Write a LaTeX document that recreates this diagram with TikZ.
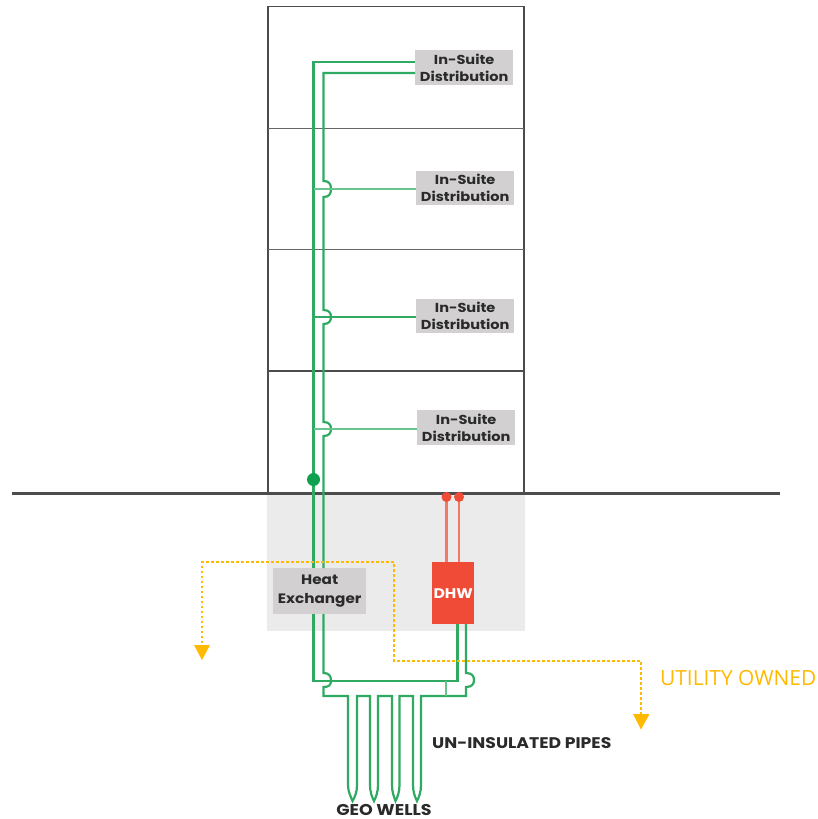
\documentclass[tikz,border=0pt]{standalone}
\usepackage{fontspec}
\setmainfont{Poppins}
\newfontfamily\labfont[FakeStretch=1.12]{Poppins}
\newfontfamily\utilfont{Open Sans}
\usetikzlibrary{arrows.meta}
\definecolor{pipegreen}{HTML}{2FAA62}
\definecolor{paleg}{HTML}{7FCF9F}
\definecolor{dotgreen}{HTML}{0FA150}
\definecolor{dhwred}{HTML}{F04B36}
\definecolor{palered}{HTML}{F0796A}
\definecolor{boxgray}{HTML}{D2D0D0}
\definecolor{basegray}{HTML}{EBEBEB}
\definecolor{orangeu}{HTML}{FFB900}
\definecolor{inkd}{HTML}{2A2A2A}
\tikzset{
 wall/.style={draw=black!70,line width=1.5pt},
 floorline/.style={draw=black!60,line width=1pt},
 pipe/.style={draw=pipegreen,line width=2.2pt},
 branch/.style={draw=paleg!70!pipegreen,line width=2.5pt},
 redpipe/.style={draw=palered,line width=2.2pt},
 label/.style={fill=boxgray,text=inkd,font=\labfont\bfseries\fontsize{13}{16.8}\selectfont,align=center,inner sep=0pt,minimum width=98pt,minimum height=34.5pt,anchor=north west},
 plainlabel/.style={text=inkd,inner sep=0pt},
 dotline/.style={draw=orangeu,line width=2.6pt,dash pattern=on 2.5pt off 2.5pt},
 headtip/.style={fill=orangeu,draw=none},
}
\begin{document}
\begin{tikzpicture}[x=1pt,y=-1pt]
\useasboundingbox (0,0) rectangle (818,819);
% basement
\fill[basegray] (267,494) rectangle (525,631);
% building
\draw[wall] (268,6.5) rectangle (524,493);
\draw[floorline] (268,128) -- (524,128);
\draw[floorline] (268,249) -- (524,249);
\draw[wall] (268,371) -- (524,371);
\draw[draw=black!70,line width=3pt] (12,493) -- (780,493);
% labels
\node[label] (s1) at (415,50) {In-Suite\\Distribution};
\node[label] (s2) at (416,170.5) {In-Suite\\Distribution};
\node[label] (s3) at (416,298.5) {In-Suite\\Distribution};
\node[label] (s4) at (417,410) {In-Suite\\Distribution};
\node[fill=boxgray,text=inkd,font=\labfont\bfseries\fontsize{13.6}{19}\selectfont,align=center,inner sep=0pt,minimum width=93pt,minimum height=46.5pt,anchor=north west] (hx) at (273,567.5) {Heat\\Exchanger};
\node[fill=dhwred,text=white,font=\labfont\bfseries\fontsize{14}{16}\selectfont,inner sep=0pt,minimum width=42pt,minimum height=62pt,anchor=north west] (dhw) at (432,562) {DHW};
% supply / return risers
\coordinate (t1) at (313.5,62); \coordinate (t2) at (323.5,73);
\draw[pipe] (s1.west |- t1) -- (t1) -- (313.5,568);
\draw[pipe] (s1.west |- t2) -- (t2) -- (323.5,181)
  .. controls (329,181) and (331,184) .. (331,189) .. controls (331,194) and (329,197) .. (323.5,197)
  -- (323.5,310) .. controls (329,310) and (331,313) .. (331,317) .. controls (331,321) and (329,324) .. (323.5,324)
  -- (323.5,422) .. controls (329,422) and (331,425) .. (331,429) .. controls (331,433) and (329,436) .. (323.5,436)
  -- (323.5,568);
\draw[branch] (313.5,189) -- (s2.west |- 0,189);
\draw[pipe] (313.5,317) -- (s3.west |- 0,317);
\draw[branch] (313.5,429) -- (s4.west |- 0,429);
\node[circle,fill=dotgreen,minimum size=13pt,inner sep=0pt] (gd) at (313.5,479.5) {};
% DHW risers
\draw[redpipe] (446.5,497) -- (446.5,562);
\draw[redpipe] (459,497) -- (459,562);
\node[circle,fill=dhwred,minimum size=10pt,inner sep=0pt] (r1) at (446.5,497) {};
\node[circle,fill=dhwred,minimum size=10pt,inner sep=0pt] (r2) at (459,497) {};
% below heat exchanger
\draw[pipe] (313.5,614) -- (313.5,681) -- (457.5,681) -- (457.5,624);
\draw[pipe] (323.5,614) -- (323.5,673) .. controls (329,673) and (331,676) .. (331,680.5)
  .. controls (331,685) and (329,687) .. (323.5,687) -- (323.5,696) -- (348,696) -- (348,785)
  .. controls (348,792) and (351,797) .. (352.5,801) .. controls (355,797) and (357,792) .. (357,785)
  -- (357,696) -- (370,696) -- (370,785)
  .. controls (370,792) and (372,797) .. (374,801) .. controls (376,797) and (378,792) .. (378,785)
  -- (378,696) -- (392,696) -- (392,785)
  .. controls (392,792) and (394,797) .. (395.5,801) .. controls (397.5,797) and (399.5,792) .. (399.5,785)
  -- (399.5,696) -- (413,696) -- (413,785)
  .. controls (413,792) and (415,797) .. (417,801) .. controls (419,797) and (421,792) .. (421,785)
  -- (421,696) -- (466,696) -- (466,687)
  .. controls (472,687) and (474,684) .. (474,680) .. controls (474,676) and (472,673) .. (466,673) -- (466,624);
\draw[branch] (446,681) -- (446,696);
% dotted boundaries
\coordinate (a1) at (202,648); \coordinate (a2) at (641,716);
\draw[dotline] (a1) -- (202,562) -- (394,562) -- (394,661) -- (641,661) -- (a2);
\fill[headtip] (194,645) -- (210,645) -- (202,660) -- cycle;
\fill[headtip] (633,714) -- (649.5,714) -- (641,729.5) -- cycle;
% texts
\node[anchor=west,inner sep=0pt,text=orangeu,font=\utilfont\fontsize{20.9}{22}\selectfont] (uo) at (660,678) {UTILITY OWNED};
\node[plainlabel,anchor=west,font=\labfont\bfseries\fontsize{15.4}{18}\selectfont] (up) at (432,743) {UN-INSULATED PIPES};
\node[plainlabel,font=\labfont\bfseries\fontsize{15.6}{18}\selectfont] (gw) at (384,810) {GEO WELLS};
\end{tikzpicture}
\end{document}
